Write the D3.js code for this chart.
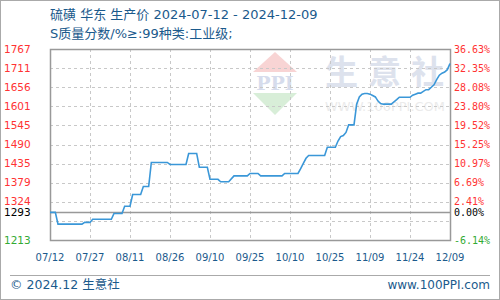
<!DOCTYPE html>
<html>
<head>
<meta charset="utf-8">
<script src="https://cdn.jsdelivr.net/npm/d3@7"></script>
<style>
  body { margin: 0; background: #fff; }
  svg { display: block; }
</style>
</head>
<body>
<div id="chart"></div>
<script>
// price series (date, price)
const dates = [
  "2024-07-12", "2024-07-14", "2024-07-15", "2024-07-24", "2024-07-25", "2024-07-27", "2024-07-28",
  "2024-08-04", "2024-08-05", "2024-08-08", "2024-08-09", "2024-08-11", "2024-08-12", "2024-08-15",
  "2024-08-16", "2024-08-18", "2024-08-19", "2024-08-25", "2024-08-26", "2024-09-01", "2024-09-02",
  "2024-09-05", "2024-09-06", "2024-09-09", "2024-09-10", "2024-09-13", "2024-09-14", "2024-09-17",
  "2024-09-19", "2024-09-24", "2024-09-25", "2024-09-28", "2024-09-29", "2024-10-07", "2024-10-08",
  "2024-10-13", "2024-10-14", "2024-10-15", "2024-10-16", "2024-10-17", "2024-10-23", "2024-10-24",
  "2024-10-27", "2024-10-28", "2024-10-29", "2024-10-30", "2024-10-31", "2024-11-01", "2024-11-03",
  "2024-11-04", "2024-11-05", "2024-11-06", "2024-11-07", "2024-11-08", "2024-11-09", "2024-11-10",
  "2024-11-11", "2024-11-12", "2024-11-13", "2024-11-14", "2024-11-17", "2024-11-18", "2024-11-19",
  "2024-11-20", "2024-11-24", "2024-11-25", "2024-11-26", "2024-11-27", "2024-11-28", "2024-11-29",
  "2024-11-30", "2024-12-01", "2024-12-02", "2024-12-03", "2024-12-04", "2024-12-05", "2024-12-06",
  "2024-12-07", "2024-12-08", "2024-12-09"
];
const prices = [
  1293, 1293, 1259, 1259, 1264, 1264, 1273,
  1273, 1290, 1290, 1311, 1311, 1345, 1345,
  1368, 1368, 1438, 1438, 1432, 1432, 1464,
  1464, 1424, 1424, 1389, 1389, 1382, 1382,
  1399, 1399, 1406, 1406, 1399, 1399, 1406,
  1406, 1420, 1435, 1450, 1458, 1458, 1482,
  1482, 1500, 1513, 1516, 1525, 1547, 1547,
  1607, 1628, 1636, 1638, 1638, 1636, 1632,
  1628, 1616, 1609, 1607, 1607, 1614, 1620,
  1627, 1627, 1633, 1636, 1639, 1639, 1644,
  1649, 1649, 1656, 1663, 1678, 1691, 1697,
  1700, 1707, 1725
];

const xTickLabels = ["07/12", "07/27", "08/11", "08/26", "09/10", "09/25", "10/10", "10/25", "11/09", "11/24", "12/09"];
const leftTicks = [1767, 1711, 1656, 1601, 1545, 1490, 1435, 1379, 1324];
const rightTicks = ["36.63%", "32.35%", "28.08%", "23.80%", "19.52%", "15.25%", "10.97%", "6.69%", "2.41%"];
const basePrice = 1293;
const minPrice = 1213;
const maxPrice = 1767;

const title1 = "硫磺 华东 生产价 2024-07-12 - 2024-12-09";
const title2 = "S质量分数/%≥:99种类:工业级;";

const width = 500, height = 300;
const margin = {top: 49, right: 50, bottom: 60, left: 50};
const blue = "#1b5a8c";
const red = "#ff3333";
const green = "#33aa33";
const font = "'DejaVu Sans', 'Noto Sans CJK SC', sans-serif";

const parse = d3.timeParse("%Y-%m-%d");
const data = dates.map((d, i) => ({date: parse(d), value: prices[i]}));

const x = d3.scaleTime()
    .domain([parse("2024-07-12"), parse("2024-12-09")])
    .range([margin.left, width - margin.right]);
const y = d3.scaleLinear()
    .domain([minPrice, maxPrice])
    .range([height - margin.bottom, margin.top]);

const svg = d3.select("#chart").append("svg")
    .attr("width", width)
    .attr("height", height)
    .style("font-family", font);

svg.append("rect")
    .attr("x", 0.5).attr("y", 0.5)
    .attr("width", width - 1).attr("height", height - 1)
    .attr("fill", "#fff")
    .attr("stroke", "#aaa");

// titles
svg.append("text")
    .attr("x", 50).attr("y", 19)
    .attr("fill", blue)
    .style("font-size", "13px")
    .text(title1);
svg.append("text")
    .attr("x", 50).attr("y", 38)
    .attr("fill", blue)
    .style("font-size", "13px")
    .text(title2);

// watermark
const wm = svg.append("g");
wm.append("path")
    .attr("d", "M253,72 L275,52 L297,72 Z")
    .attr("fill", "#f8d4d4");
wm.append("text")
    .attr("x", 275).attr("y", 90)
    .attr("text-anchor", "middle")
    .attr("fill", "#d6dcec")
    .style("font-family", "'DejaVu Serif', serif")
    .style("font-size", "19px")
    .style("font-weight", "bold")
    .text("PPI");
wm.append("path")
    .attr("d", "M253,93 L297,93 L275,115 Z")
    .attr("fill", "#d8eed8");
wm.append("text")
    .attr("x", 325).attr("y", 84)
    .attr("fill", "#dde2ed")
    .style("font-family", "'Noto Sans CJK SC', sans-serif")
    .style("font-size", "33px")
    .style("font-weight", "bold")
    .style("letter-spacing", "10px")
    .text("生意社");
wm.append("text")
    .attr("x", 325).attr("y", 111)
    .attr("fill", "#ebebeb")
    .attr("textLength", 120)
    .attr("lengthAdjust", "spacingAndGlyphs")
    .style("font-size", "13px")
    .text("WWW.100PPI.COM");

// gridlines
const gridValues = d3.range(0, 11).map(i => minPrice + i * (maxPrice - minPrice) / 10);
svg.append("g")
    .selectAll("line")
    .data(gridValues.slice(1, -1))
    .join("line")
    .attr("x1", margin.left).attr("x2", width - margin.right)
    .attr("y1", d => Math.round(y(d)) + 0.5).attr("y2", d => Math.round(y(d)) + 0.5)
    .attr("stroke", "#c8c8c8")
    .attr("stroke-dasharray", "3,3");

const xTicks = d3.range(0, 11).map(i => d3.timeDay.offset(x.domain()[0], i * 15));
svg.append("g")
    .selectAll("line")
    .data(xTicks.slice(1, -1))
    .join("line")
    .attr("x1", d => Math.round(x(d)) + 0.5).attr("x2", d => Math.round(x(d)) + 0.5)
    .attr("y1", margin.top).attr("y2", height - margin.bottom)
    .attr("stroke", "#c8c8c8")
    .attr("stroke-dasharray", "3,3");

// base line
svg.append("line")
    .attr("x1", margin.left).attr("x2", width - margin.right)
    .attr("y1", Math.round(y(basePrice)) + 0.5).attr("y2", Math.round(y(basePrice)) + 0.5)
    .attr("stroke", "#999")
    .attr("stroke-width", 1.5);

// frame
svg.append("rect")
    .attr("x", margin.left + 0.5).attr("y", margin.top + 0.5)
    .attr("width", width - margin.left - margin.right)
    .attr("height", height - margin.top - margin.bottom)
    .attr("fill", "none")
    .attr("stroke", "#999")
    .attr("stroke-width", 1.5);

// the series
const line = d3.line()
    .x(d => x(d.date))
    .y(d => y(d.value));
svg.append("path")
    .datum(data)
    .attr("fill", "none")
    .attr("stroke", "#3a97d8")
    .attr("stroke-width", 1.6)
    .attr("d", line);

// left labels
const leftG = svg.append("g").style("font-size", "10.5px");
leftG.selectAll("text")
    .data(leftTicks)
    .join("text")
    .attr("x", 4).attr("y", d => y(d))
    .attr("dy", "0.35em")
    .attr("fill", red)
    .text(d => d);
leftG.append("text")
    .attr("x", 4).attr("y", y(basePrice)).attr("dy", "0.35em")
    .attr("fill", "#000").text(basePrice);
leftG.append("text")
    .attr("x", 4).attr("y", y(minPrice)).attr("dy", "0.35em")
    .attr("fill", green).text(minPrice);

// right labels
const rightG = svg.append("g")
    .style("font-family", "'DejaVu Sans Mono', monospace")
    .style("font-size", "10px");
rightG.selectAll("text")
    .data(rightTicks)
    .join("text")
    .attr("x", 454).attr("y", (d, i) => y(leftTicks[i]))
    .attr("dy", "0.35em")
    .attr("fill", red)
    .text(d => d);
rightG.append("text")
    .attr("x", 454).attr("y", y(basePrice)).attr("dy", "0.35em")
    .attr("fill", "#000").text("0.00%");
rightG.append("text")
    .attr("x", 454).attr("y", y(minPrice)).attr("dy", "0.35em")
    .attr("fill", green).text("-6.14%");

// x labels
svg.append("g")
    .style("font-size", "10px")
    .selectAll("text")
    .data(xTicks)
    .join("text")
    .attr("x", d => x(d)).attr("y", 257)
    .attr("dy", "0.35em")
    .attr("text-anchor", "middle")
    .attr("fill", blue)
    .text((d, i) => xTickLabels[i]);

// footer
svg.append("line")
    .attr("x1", 10).attr("x2", 490)
    .attr("y1", 275.5).attr("y2", 275.5)
    .attr("stroke", "#aaa");
svg.append("text")
    .attr("x", 10).attr("y", 285).attr("dy", "0.35em")
    .attr("fill", blue)
    .style("font-size", "12.5px")
    .text("© 2024.12 生意社");
svg.append("text")
    .attr("x", 490).attr("y", 285).attr("dy", "0.35em")
    .attr("text-anchor", "end")
    .attr("fill", blue)
    .style("font-size", "12px")
    .text("www.100PPI.com");
</script>
</body>
</html>
